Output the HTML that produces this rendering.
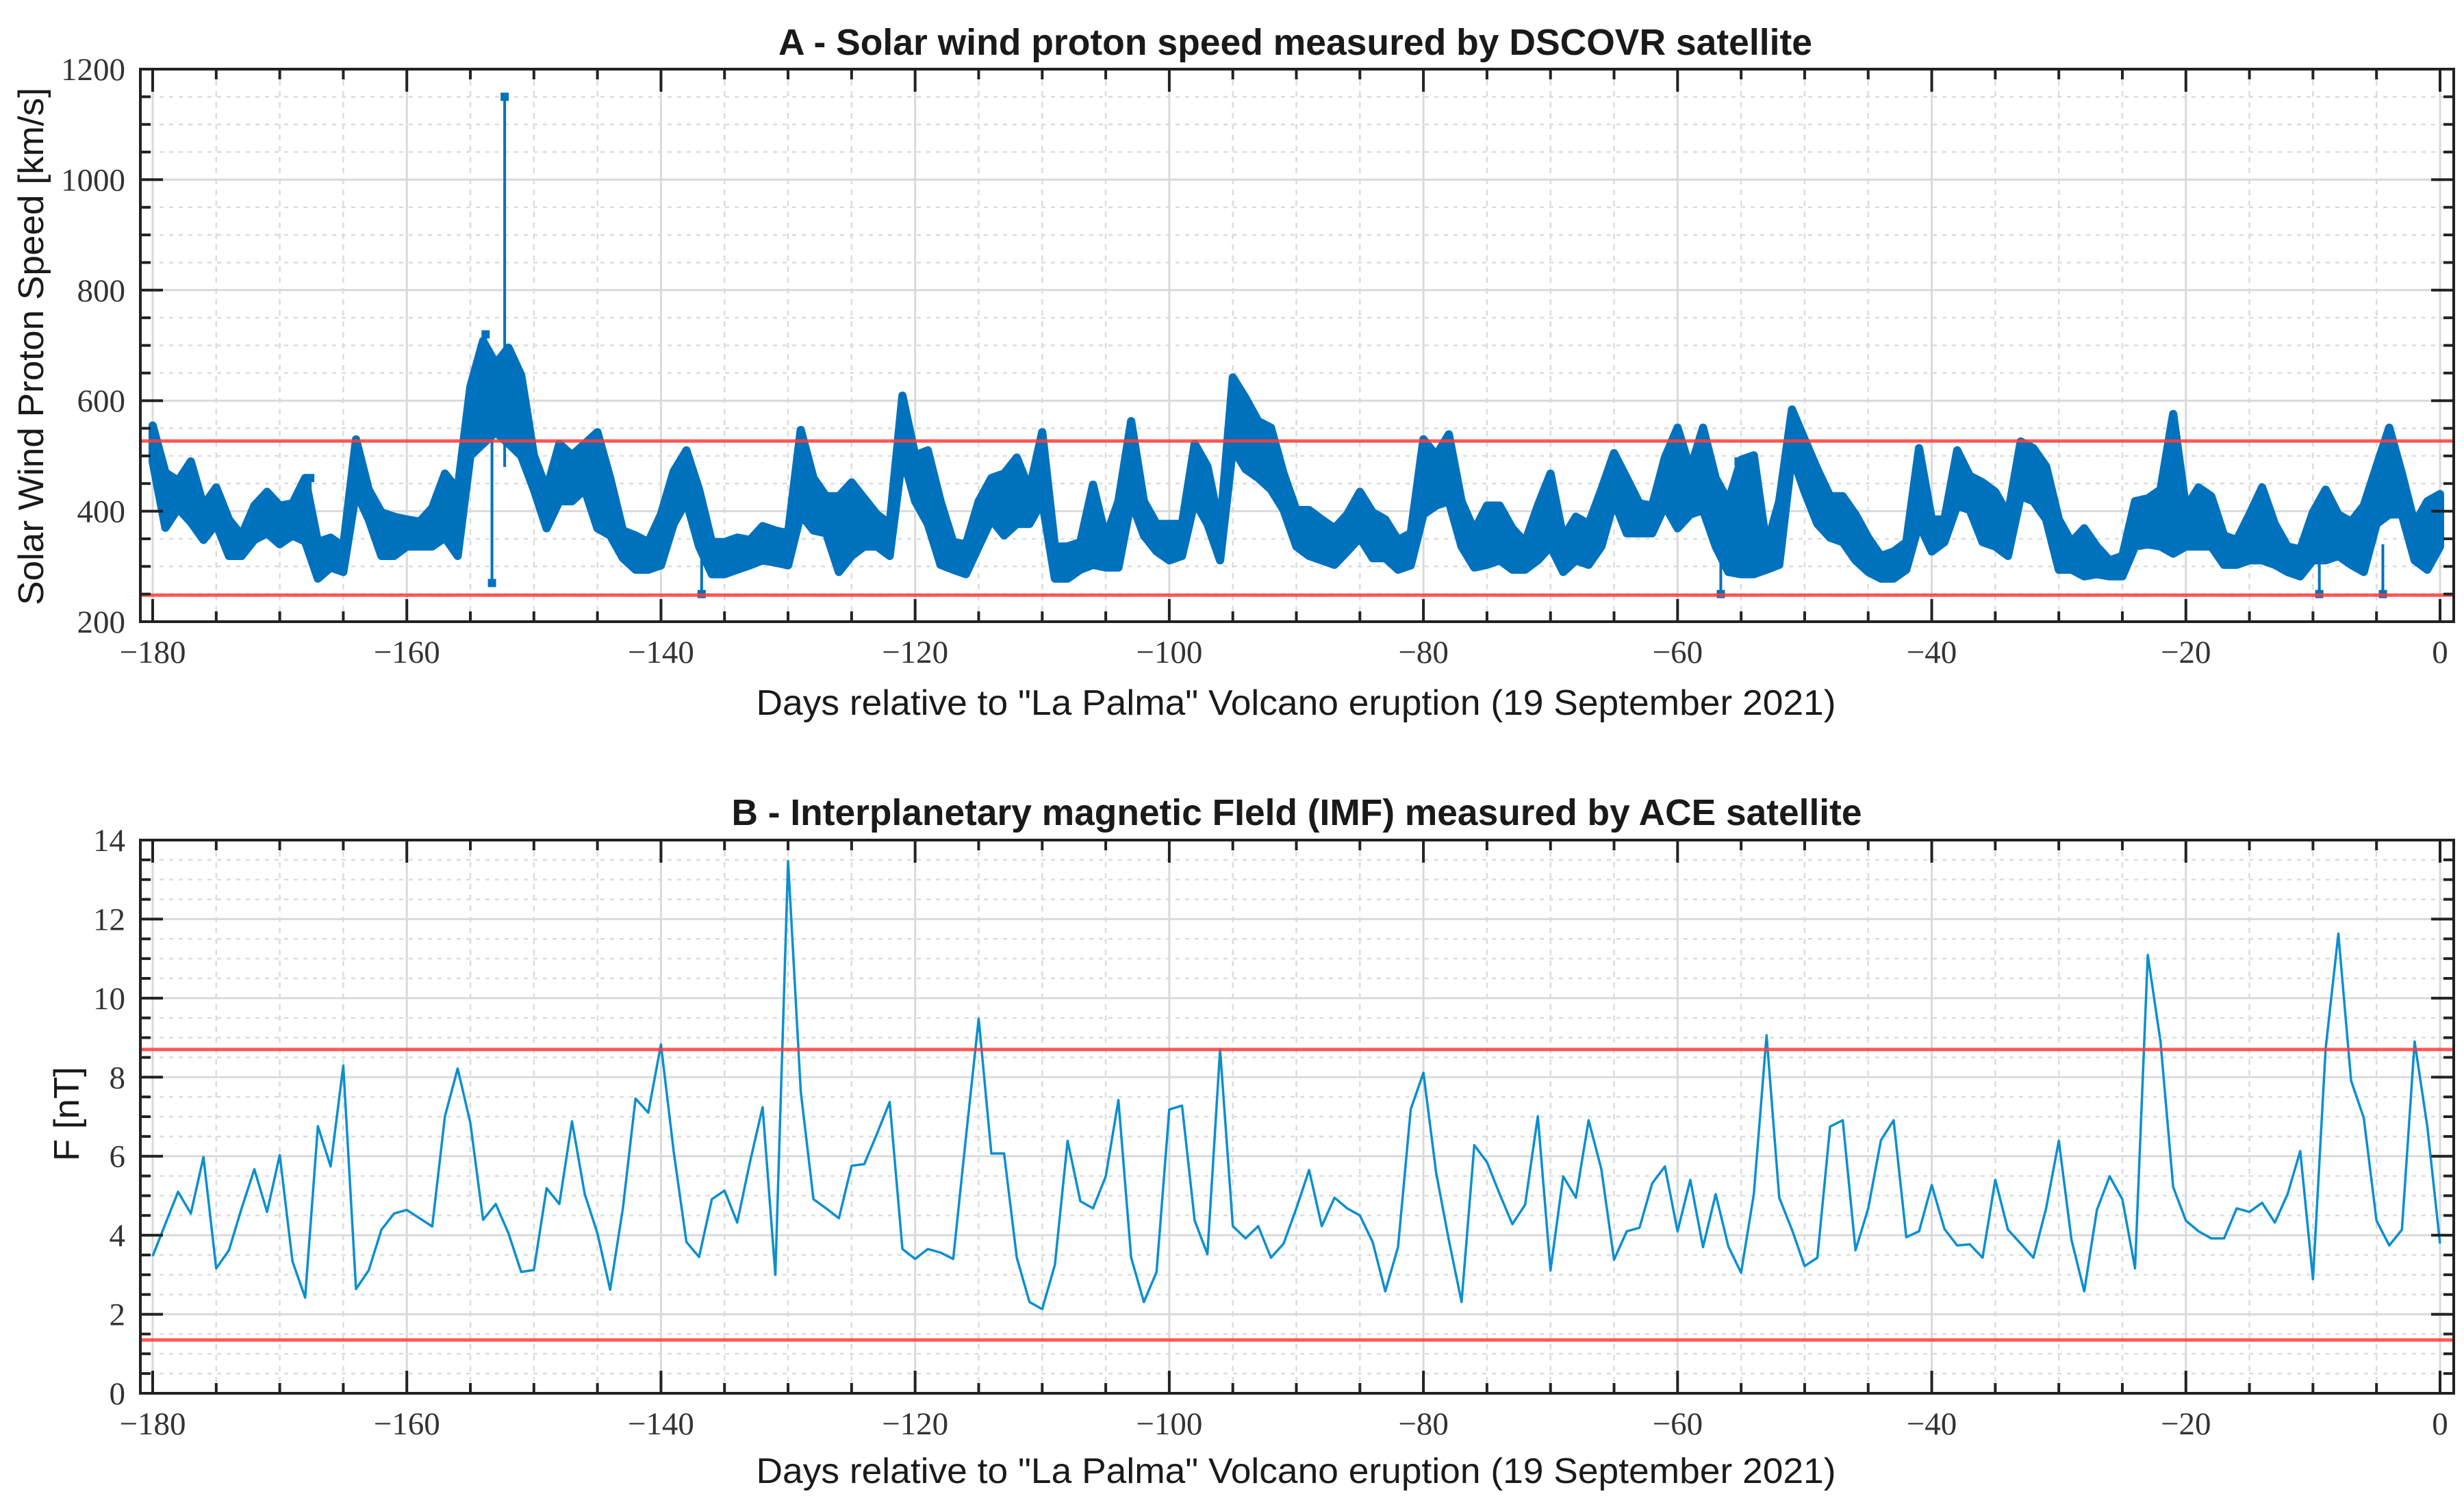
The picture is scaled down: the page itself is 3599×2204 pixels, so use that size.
<!DOCTYPE html>
<html><head><meta charset="utf-8"><style>
html,body{margin:0;padding:0;background:#fff;}
svg{display:block;}
</style></head><body>
<svg id="chart" width="3599" height="2204" xmlns="http://www.w3.org/2000/svg">
<rect width="3599" height="2204" fill="#fff"/>
<g id="panelA"></g>
<g id="panelB"></g>
</svg>
<script>
const days = [];
for (let d = -180; d <= 0; d++) days.push(d);
const speedHi = [555,470,455,490,410,443,385,356,410,435,410,414,460,344,352,336,530,439,398,390,385,381,406,468,439,625,708,667,696,646,501,439,522,501,522,543,460,365,356,344,394,472,510,439,344,344,352,348,373,365,360,547,460,427,427,452,423,394,377,609,501,
510,418,344,340,418,460,468,497,439,543,336,336,344,448,352,418,563,418,377,377,377,522,481,369,642,605,563,551,468,402,402,385,369,394,435,398,385,348,360,530,501,539,418,365,410,410,369,344,410,468,352,390,377,439,505,460,414,410,497,551,476,
551,460,418,493,501,336,418,584,530,476,427,427,394,352,319,327,344,514,385,385,510,464,452,435,394,526,514,481,385,344,369,336,311,319,418,423,439,576,406,443,427,356,348,394,443,377,336,331,398,439,394,381,410,481,551,468,377,418,431];
const speedLo = [490,370,405,380,348,377,319,319,348,360,340,356,345,278,298,290,435,385,319,319,336,336,336,352,319,500,522,543,522,500,439,369,418,418,439,369,356,315,294,294,302,377,418,336,286,286,294,302,311,307,302,394,365,360,290,319,336,336,319,501,418,
377,303,294,286,336,385,356,377,377,418,278,278,294,303,298,298,418,356,327,311,319,418,377,311,514,476,460,439,402,336,319,311,303,327,352,315,315,294,302,394,410,418,336,298,303,311,294,294,311,336,290,311,303,336,418,360,360,360,410,369,394,
402,336,290,286,286,294,303,501,435,377,352,344,311,290,278,278,294,377,327,344,410,402,344,336,319,427,418,385,294,294,282,286,282,282,336,340,336,323,336,336,336,303,303,311,311,303,290,282,311,311,319,303,290,377,394,394,311,294,336];
// spikes: [day, from value, to value]
const spikeDay = [-152.3, -153.8, -153.3, -136.8, -56.6, -9.5, -4.5, -167.6, -55.2];
const spikeFrom = [480, 560, 560, 330, 340, 330, 340, 380, 330];
const spikeTo = [1150, 720, 270, 250, 250, 250, 250, 460, 490];
const imf = [3.47,4.29,5.10,4.55,5.98,3.16,3.62,4.68,5.67,4.59,6.03,3.34,2.42,6.76,5.74,8.29,2.64,3.11,4.14,4.55,4.64,4.43,4.22,7.01,8.22,6.84,4.39,4.79,4.05,3.07,3.12,5.19,4.79,6.88,5.04,4.05,2.62,4.68,7.46,7.10,8.83,6.12,3.83,3.45,4.91,5.13,4.32,5.85,7.24,3.00,13.47,7.64,4.91,4.68,4.43,5.76,5.80,6.57,7.37,3.65,3.40,3.65,
3.56,3.40,6.48,9.48,6.07,6.07,3.43,2.31,2.13,3.25,6.39,4.86,4.68,5.49,7.42,3.43,2.31,3.07,7.18,7.28,4.37,3.52,8.70,4.23,3.92,4.23,3.43,3.79,4.68,5.65,4.23,4.95,4.68,4.50,3.83,2.58,3.70,7.19,8.11,5.58,3.88,2.31,6.28,5.85,5.04,4.28,4.77,7.01,3.11,5.49,4.95,6.91,5.67,3.38,4.10,4.19,5.31,5.74,4.10,5.40,3.70,
5.04,3.71,3.05,5.04,9.06,4.95,4.14,3.22,3.43,6.75,6.91,3.62,4.68,6.40,6.91,3.95,4.10,5.27,4.16,3.74,3.77,3.43,5.40,4.14,3.79,3.43,4.68,6.39,3.88,2.58,4.64,5.49,4.91,3.16,11.09,8.90,5.22,4.37,4.10,3.92,3.92,4.68,4.59,4.82,4.32,5.04,6.13,2.89,8.72,11.63,7.91,6.97,4.37,3.74,4.14,8.90,6.75,3.79];
const xTicks = [-180,-160,-140,-120,-100,-80,-60,-40,-20,0];
const yTicksA = [200,400,600,800,1000,1200];
const yTicksB = [0,2,4,6,8,10,12,14];
const thrA = [527, 248];
const thrB = [8.7, 1.35];

const NS = 'http://www.w3.org/2000/svg';
const L = 205, R = 3584;
function xs(d){ return 223 + (d + 180) * (3564 - 223) / 180; }
function mk(tag, attrs, parent){
  const e = document.createElementNS(NS, tag);
  for (const k in attrs) e.setAttribute(k, attrs[k]);
  parent.appendChild(e); return e;
}
function axes(g, top, bot, ymin, ymax, yTicks, yMinorStep, ys){
  const grid = mk('g', {}, g);
  
  
  for (let d = -180; d <= 0; d += 5) {
    if (d % 20 === 0) continue;
    mk('line', {x1: xs(d), x2: xs(d), y1: top, y2: bot, stroke: '#dcdcdc', 'stroke-width': 2.5, 'stroke-dasharray': '8 8'}, grid);
  }
  for (let v = ymin; v <= ymax; v += yMinorStep) {
    if (yTicks.includes(v)) continue;
    mk('line', {x1: L, x2: R, y1: ys(v), y2: ys(v), stroke: '#dcdcdc', 'stroke-width': 2.5, 'stroke-dasharray': '6 8'}, grid);
  }
  xTicks.forEach(d => mk('line', {x1: xs(d), x2: xs(d), y1: top, y2: bot, stroke: '#dadada', 'stroke-width': 3}, grid));
  yTicks.forEach(v => mk('line', {x1: L, x2: R, y1: ys(v), y2: ys(v), stroke: '#dadada', 'stroke-width': 3}, grid));
}
function frame(g, top, bot, ymin, ymax, yTicks, yMinorStep, ys){
  const fr = mk('g', {stroke: '#222', 'stroke-width': 4, fill: 'none'}, g);
  
  
  mk('rect', {x: L, y: top, width: R - L, height: bot - top}, fr);
  for (let d = -180; d <= 0; d += 5) {
    const len = d % 20 === 0 ? 33 : 15;
    mk('line', {x1: xs(d), x2: xs(d), y1: bot, y2: bot - len}, fr);
    mk('line', {x1: xs(d), x2: xs(d), y1: top, y2: top + len}, fr);
  }
  for (let v = ymin; v <= ymax + 1e-9; v += yMinorStep) {
    const len = yTicks.includes(v) ? 33 : 15;
    mk('line', {x1: L, x2: L + len, y1: ys(v), y2: ys(v)}, fr);
    mk('line', {x1: R, x2: R - len, y1: ys(v), y2: ys(v)}, fr);
  }
  xTicks.forEach(d => {
    const t = mk('text', {x: xs(d), y: bot + 60, 'text-anchor': 'middle', 'font-family': '"Liberation Serif", serif', 'font-size': 47, fill: '#333'}, g);
    
    
    t.textContent = d < 0 ? '\u2212' + Math.abs(d) : String(d);
  });
  yTicks.forEach(v => {
    const t = mk('text', {x: 183, y: ys(v) + 16, 'text-anchor': 'end', 'font-family': '"Liberation Serif", serif', 'font-size': 47, fill: '#333'}, g);
    
    
    t.textContent = String(v);
  });
}
function label(g, txt, x, y, size, len, bold, rot, name){
  const a = {x: x, y: y, 'text-anchor': 'middle', 'font-family': '"Liberation Sans", Arial, sans-serif', 'font-size': size, fill: '#1a1a1a', textLength: len, lengthAdjust: 'spacingAndGlyphs'};
  if (bold) a['font-weight'] = 'bold';
  if (rot) a.transform = 'rotate(-90 ' + x + ' ' + y + ')';
  const t = mk('text', a, g);
  
  
  t.textContent = txt;
}

// Panel A
const gA = document.getElementById('panelA');
const topA = 101, botA = 908;
const ysA = v => botA - (v - 200) * (botA - topA) / 1000;
axes(gA, topA, botA, 200, 1200, yTicksA, 50, ysA);
let pts = [];
days.forEach((d, i) => pts.push(xs(d).toFixed(1) + ',' + ysA(speedHi[i]).toFixed(1)));
for (let i = days.length - 1; i >= 0; i--) pts.push(xs(days[i]).toFixed(1) + ',' + ysA(speedLo[i]).toFixed(1));
const band = mk('polygon', {points: pts.join(' '), fill: '#0072BD', stroke: '#0072BD', 'stroke-width': 12, 'stroke-linejoin': 'round'}, gA);


spikeDay.forEach((d, i) => {
  const s = mk('line', {x1: xs(d), x2: xs(d), y1: ysA(spikeFrom[i]), y2: ysA(spikeTo[i]), stroke: '#0072BD', 'stroke-width': 4}, gA);
  
  
  const m = mk('rect', {x: xs(d) - 6, y: ysA(spikeTo[i]) - 6, width: 12, height: 12, fill: '#0072BD'}, gA);
  
  
});
thrA.forEach(v => {
  const l = mk('line', {x1: L, x2: R, y1: ysA(v), y2: ysA(v), stroke: '#ff3b3b', 'stroke-width': 5, 'stroke-opacity': 0.85}, gA);
  
  
});
frame(gA, topA, botA, 200, 1200, yTicksA, 50, ysA);
label(gA, 'A - Solar wind proton speed measured by DSCOVR satellite', 1892, 80, 54, 1510, true, false, 'panel-a-title');
label(gA, 'Days relative to "La Palma" Volcano eruption (19 September 2021)', 1893, 1044, 52, 1577, false, false, 'x-axis-title');
label(gA, 'Solar Wind Proton Speed [km/s]', 63, 506, 52, 756, false, true, 'y-axis-title');

// Panel B
const gB = document.getElementById('panelB');
const topB = 1227, botB = 2035;
const ysB = v => botB - v * (botB - topB) / 14;
axes(gB, topB, botB, 0, 14, yTicksB, 0.5, ysB);
const lp = days.map((d, i) => xs(d).toFixed(1) + ',' + ysB(imf[i]).toFixed(1)).join(' ');
const line = mk('polyline', {points: lp, fill: 'none', stroke: '#0a8fd0', 'stroke-width': 3.5, 'stroke-linejoin': 'round'}, gB);


thrB.forEach(v => {
  const l = mk('line', {x1: L, x2: R, y1: ysB(v), y2: ysB(v), stroke: '#ff3b3b', 'stroke-width': 5, 'stroke-opacity': 0.85}, gB);
  
  
});
frame(gB, topB, botB, 0, 14, yTicksB, 0.5, ysB);
label(gB, 'B - Interplanetary magnetic FIeld (IMF) measured by ACE satellite', 1894, 1205, 54, 1651, true, false, 'panel-b-title');
label(gB, 'Days relative to "La Palma" Volcano eruption (19 September 2021)', 1893, 2166, 52, 1577, false, false, 'x-axis-title');
label(gB, 'F [nT]', 115, 1627, 52, 138, false, true, 'y-axis-title');
</script>
</body></html>
